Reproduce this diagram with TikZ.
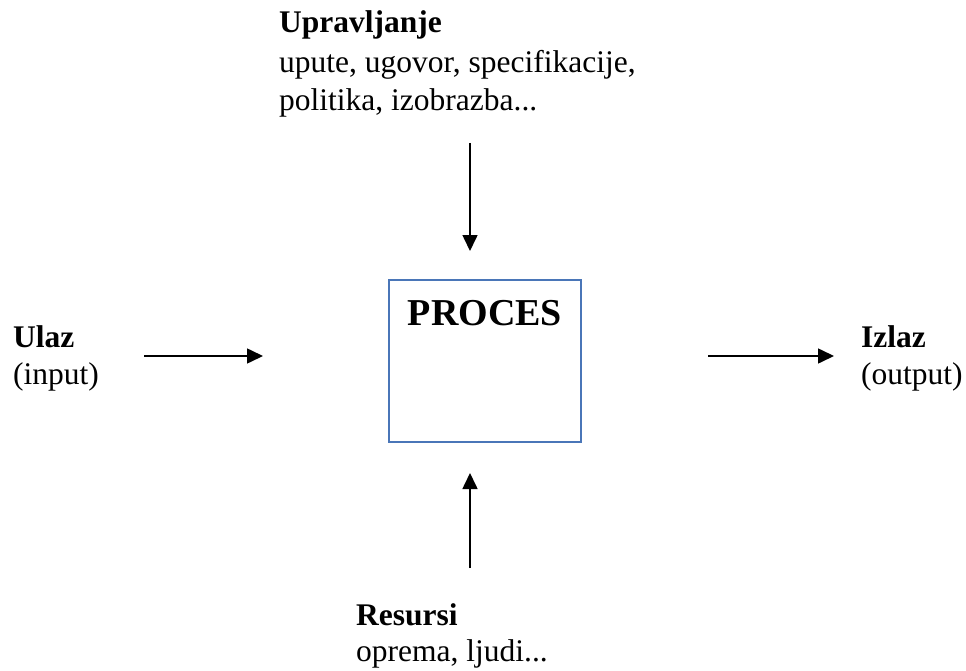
\documentclass[tikz,border=0pt]{standalone}
\usepackage{fontspec}
\setmainfont{Liberation Serif}
\usetikzlibrary{arrows.meta}
\definecolor{boxblue}{HTML}{4A76B8}
\begin{document}
\begin{tikzpicture}[x=1pt,y=-1pt,
  txt/.style={anchor=base west,inner sep=0pt,font=\fontsize{31.5}{38}\selectfont},
  arr/.style={line width=1.6pt,-{Triangle[length=16pt,width=15pt]}},
  procbox/.style={draw=boxblue,line width=1.8pt,minimum width=192pt,minimum height=162pt,inner sep=0pt}]
\useasboundingbox (0,0) rectangle (966,671);
% box
\node[procbox] (box) at (485,361) {};
\node[anchor=base,inner sep=0pt,font=\fontsize{38}{44}\selectfont\bfseries] (proc) at (485,325) {PROCES};
% top texts
\node[txt,font=\fontsize{31.5}{38}\selectfont\bfseries] (upr) at (279,33) {Upravljanje};
\node[txt] (upr1) at (279,73) {upute, ugovor, specifikacije,};
\node[txt] (upr2) at (279,111) {politika, izobrazba...};
% left
\node[txt,font=\fontsize{31.5}{38}\selectfont\bfseries] (ulaz) at (13,347) {Ulaz};
\node[txt] (ulaz1) at (13,384) {(input)};
% right
\node[txt,font=\fontsize{31.5}{38}\selectfont\bfseries] (izlaz) at (861,347) {Izlaz};
\node[txt] (izlaz1) at (861,384) {(output)};
% bottom
\node[txt,font=\fontsize{31.5}{38}\selectfont\bfseries] (res) at (356,625) {Resursi};
\node[txt] (res1) at (356,661) {oprema, ljudi...};
% arrow coordinates
\coordinate (ta) at (470,143);
\coordinate (tb) at (470,251);
\coordinate (la) at (144,356);
\coordinate (lb) at (263,356);
\coordinate (ra) at (708,356);
\coordinate (rb) at (834,356);
\coordinate (ba) at (470,568);
\coordinate (bb) at (470,473);
\draw[arr] (ta) -- (tb);
\draw[arr] (la) -- (lb);
\draw[arr] (ra) -- (rb);
\draw[arr] (ba) -- (bb);
\end{tikzpicture}
\end{document}
